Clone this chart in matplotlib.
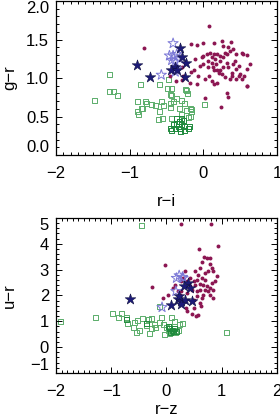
import matplotlib
matplotlib.use('Agg')
import matplotlib.pyplot as plt
from matplotlib.ticker import MultipleLocator

plt.rcParams['font.family'] = ['Liberation Sans', 'DejaVu Sans']
plt.rcParams['font.size'] = 12

# ---- top panel: r-i vs g-r ----
red_ri = [0.08, -0.17, -0.09, -0.01, 0.14, 0.25, 0.38, 0.27, 0.34, 0.41, 0.52, 0.60, 0.64, 0.60,
          0.49, 0.45, 0.39, 0.30, 0.23, 0.18, 0.14, 0.08, 0.02, -0.04, -0.07, -0.09, 0.03, 0.24,
          0.14, 0.12, 0.18, 0.21, 0.25, 0.27, 0.32, 0.34, 0.39, 0.41, 0.45, 0.50, 0.52, 0.36,
          0.43, 0.23, 0.18, 0.14, 0.09, 0.05, 0.00, -0.02, 0.06, 0.12, 0.16, 0.23, 0.27, 0.32,
          0.36, 0.45, 0.54, 0.59, 0.55, 0.48, 0.30, 0.12, 0.17, 0.07, 0.13, 0.00, -0.11, -0.13,
          -0.27, -0.29, -0.18, -0.29, -0.25, -0.81, -0.45, -0.37, -0.16, 0.32, 0.34, 0.60]
red_gr = [1.68, 1.44, 1.43, 1.45, 1.45, 1.48, 1.47, 1.42, 1.40, 1.38, 1.33, 1.30, 1.18, 0.89,
          1.03, 0.99, 1.03, 1.01, 1.10, 1.10, 1.10, 1.03, 0.99, 1.16, 1.03, 0.92, 0.74, 0.63,
          0.92, 0.96, 0.94, 1.07, 1.05, 1.14, 1.20, 1.14, 1.07, 1.18, 1.12, 1.05, 0.99, 0.99,
          1.22, 1.29, 1.31, 1.31, 1.33, 1.31, 1.29, 1.27, 1.22, 1.27, 1.25, 1.22, 1.27, 1.31,
          1.35, 1.31, 1.31, 1.12, 1.03, 1.16, 1.33, 1.20, 1.18, 1.14, 1.14, 1.18, 1.25, 1.10,
          1.03, 0.97, 0.94, 1.14, 1.20, 1.39, 1.02, 0.96, 1.08, 0.80, 0.76, 0.90]

star_ri = [-0.90, -0.73, -0.32, -0.29, -0.24, -0.38, -0.44, -0.36, -0.25]
star_gr = [1.17, 1.01, 1.39, 1.27, 1.19, 1.14, 1.11, 1.10, 1.01]

ostar_ri = [-0.41, -0.46, -0.41, -0.36, -0.43, -0.38, -0.36, -0.38, -0.57, -0.32]
ostar_gr = [1.45, 1.29, 1.29, 1.31, 1.23, 1.21, 1.12, 1.08, 1.04, 1.25]

green_ri = [-1.28, -1.27, -1.22, -1.16, -1.48, -0.85, -0.60, -0.48, -0.43, -0.23, -0.21, -0.44,
            -0.43, -0.36, -0.90, -0.79, -0.77, -0.70, -0.65, -0.84, -0.88, -0.57, -0.54, -0.45,
            -0.41, -0.29, -0.25, -0.45, -0.32, -0.23, -0.18, -0.16, 0.01, -0.59, -0.56, -0.61,
            -0.43, -0.29, -0.20, -0.24, -0.16, -0.18, -0.89, -0.83, -0.47]
green_gr = [1.05, 0.83, 0.82, 0.77, 0.71, 0.92, 0.92, 0.87, 0.87, 0.84, 0.80, 0.78,
            0.77, 0.74, 0.70, 0.70, 0.67, 0.65, 0.64, 0.60, 0.52, 0.70, 0.64, 0.67,
            0.69, 0.71, 0.67, 0.62, 0.60, 0.58, 0.61, 0.56, 0.66, 0.56, 0.47, 0.46,
            0.47, 0.52, 0.49, 0.85, 0.59, 0.50, 0.57, 0.60, 0.98]

dgreen_ri = [-0.41, -0.36, -0.32, -0.27, -0.34, -0.29, -0.25, -0.38, -0.32, -0.26, -0.43, -0.20,
             -0.36, -0.29, -0.45, -0.19, -0.31]
dgreen_gr = [0.39, 0.41, 0.43, 0.45, 0.37, 0.39, 0.37, 0.34, 0.34, 0.32, 0.32, 0.35,
             0.47, 0.47, 0.34, 0.37, 0.30]

# ---- bottom panel: r-z vs u-r ----
red_rz = [0.26, 0.81, 0.94, 0.59, 0.68, 0.73, 0.78, 0.64, 0.79, 0.82, 0.85, 0.91, 0.76, 0.70,
          0.58, 0.64, 0.55, 0.49, 0.52, 0.61, 0.67, 0.73, 0.79, 0.85, 0.82, 0.76, 0.70, 0.61,
          0.55, 0.67, 0.79, 0.85, 0.64, 0.55, 0.61, 0.49, 0.46, 0.42, 0.37, 0.30, 0.27, 0.33,
          0.27, 0.37, 0.24, 0.20, 0.15, 0.34, 0.42, 0.52, 0.61, -0.03, -0.27, -0.06, 0.03, 0.12,
          0.35, 0.46, 0.58, 0.62, 0.49, 0.37, 0.70, 0.88, 0.54]
red_ur = [4.76, 4.76, 3.92, 3.80, 3.48, 3.44, 3.44, 3.29, 3.21, 3.06, 2.93, 2.74, 2.93, 2.86,
          2.80, 2.67, 2.61, 2.54, 2.41, 2.44, 2.41, 2.35, 2.29, 2.22, 2.48, 2.16, 2.22, 2.22,
          2.16, 2.03, 2.03, 1.90, 1.90, 1.96, 1.71, 1.84, 2.22, 2.35, 2.54, 2.67, 2.54, 2.35,
          2.16, 2.09, 2.03, 2.16, 2.41, 2.93, 2.67, 2.93, 3.06, 3.19, 2.31, 1.90, 2.00, 2.28,
          1.51, 1.28, 1.26, 1.58, 1.51, 1.38, 2.61, 2.54, 1.22]

star_rz = [0.39, 0.42, 0.32, 0.20, 0.26, 0.34, 0.46, 0.09, 0.27, 0.23, -0.66]
star_ur = [2.48, 2.28, 2.37, 1.87, 1.77, 1.83, 1.80, 1.64, 1.67, 1.99, 1.86]

ostar_rz = [0.23, 0.29, 0.18, 0.17, -0.08, 0.30]
ostar_ur = [2.77, 2.71, 2.67, 2.16, 1.54, 2.67]

green_rz = [-0.46, -1.91, -1.28, -0.97, -0.81, -0.86, -0.73, -0.70, -0.57, -0.52, -0.43, -0.36,
            -0.32, -0.27, -0.21, -0.20, -0.13, -0.09, -0.27, -0.54, -0.48, -0.31, -0.60, -0.13,
            -0.05, 0.00, -0.03, 0.03, 0.06, 0.09, 0.15, 0.24, 0.29, 0.21, 0.17, 0.09, 0.05, 1.09]
green_ur = [4.69, 0.99, 1.13, 1.29, 1.29, 1.15, 1.15, 0.91, 0.97, 1.04, 1.10, 0.83,
            1.06, 0.71, 0.87, 0.74, 0.96, 1.13, 1.10, 0.57, 0.65, 0.52, 0.77, 1.58,
            0.87, 0.74, 0.48, 0.65, 0.80, 1.13, 0.99, 0.87, 0.93, 0.65, 0.55, 0.61, 0.52, 0.55]

dgreen_rz = [0.06, 0.11, 0.15, 0.03, 0.18, 0.08, -0.72, -0.36, 0.13]
dgreen_ur = [0.70, 0.65, 0.70, 0.78, 0.61, 0.57, 1.05, 0.93, 0.62]

c_red = '#8c1652'
c_star = '#1c1a78'
c_ostar = '#7b78d6'
c_green = '#5aad6a'
c_dgreen = '#1e8a3c'

fig = plt.figure(figsize=(2.8, 4.19), dpi=100)
ax1 = fig.add_axes([0.2, 0.630, 0.789, 0.3676])
ax2 = fig.add_axes([0.2, 0.110, 0.789, 0.370])


def draw(ax, gx, gy, dgx, dgy, rx, ry, ox, oy, sx, sy):
    ax.scatter(gx, gy, s=13, marker='s', facecolors='none', edgecolors=c_green, linewidths=0.7)
    ax.scatter(dgx, dgy, s=13, marker='s', facecolors='none', edgecolors=c_dgreen, linewidths=0.7)
    ax.scatter(rx, ry, s=8, marker='o', color=c_red, linewidths=0)
    ax.scatter(ox, oy, s=60, marker='*', facecolors='none', edgecolors=c_ostar, linewidths=0.7)
    ax.scatter(sx, sy, s=65, marker='*', color=c_star, edgecolors='#101040', linewidths=0.4)


draw(ax1, green_ri, green_gr, dgreen_ri, dgreen_gr, red_ri, red_gr,
     ostar_ri, ostar_gr, star_ri, star_gr)
draw(ax2, green_rz, green_ur, dgreen_rz, dgreen_ur, red_rz, red_ur,
     ostar_rz, ostar_ur, star_rz, star_ur)

ax1.set_xlim(-2, 1)
ax1.set_ylim(0, 2)
ax1.set_xticks([-2, -1, 0, 1])
ax1.set_xticklabels(['\u22122', '\u22121', '0', '1'])
ax1.set_yticks([0, 0.5, 1.0, 1.5, 2.0])
ax1.set_yticklabels(['0.0', '0.5', '1.0', '1.5', '2.0'])
ax1.xaxis.set_minor_locator(MultipleLocator(0.1))
ax1.yaxis.set_minor_locator(MultipleLocator(0.1))
ax1.set_xlabel('r\u2212i')
ax1.set_ylabel('g\u2212r')

ax2.set_xlim(-2, 2)
ax2.set_ylim(-1, 5)
ax2.set_xticks([-2, -1, 0, 1, 2])
ax2.set_xticklabels(['\u22122', '\u22121', '0', '1', '2'])
ax2.set_yticks([-1, 0, 1, 2, 3, 4, 5])
ax2.set_yticklabels(['\u22121', '0', '1', '2', '3', '4', '5'])
ax2.xaxis.set_minor_locator(MultipleLocator(0.1))
ax2.yaxis.set_minor_locator(MultipleLocator(0.2))
ax2.set_xlabel('r\u2212z')
ax2.set_ylabel('u\u2212r')

for ax in (ax1, ax2):
    ax.tick_params(which='both', direction='in', top=True, right=True, width=0.7, labelsize=12)
    ax.tick_params(which='major', length=4.5)
    ax.tick_params(which='minor', length=2)
    ax.tick_params(axis='x', pad=8)
    ax.tick_params(axis='y', pad=5)
    for sp in ax.spines.values():
        sp.set_linewidth(0.9)
    yt = ax.yaxis.get_major_ticks()
    yt[0].label1.set_va('bottom')
    yt[-1].label1.set_va('top')
    ax.yaxis.set_label_coords(-0.175, 0.5)

ax1.xaxis.set_label_coords(0.5, -0.255)
ax2.xaxis.set_label_coords(0.5, -0.19)

fig.savefig('out.png', dpi=100)
